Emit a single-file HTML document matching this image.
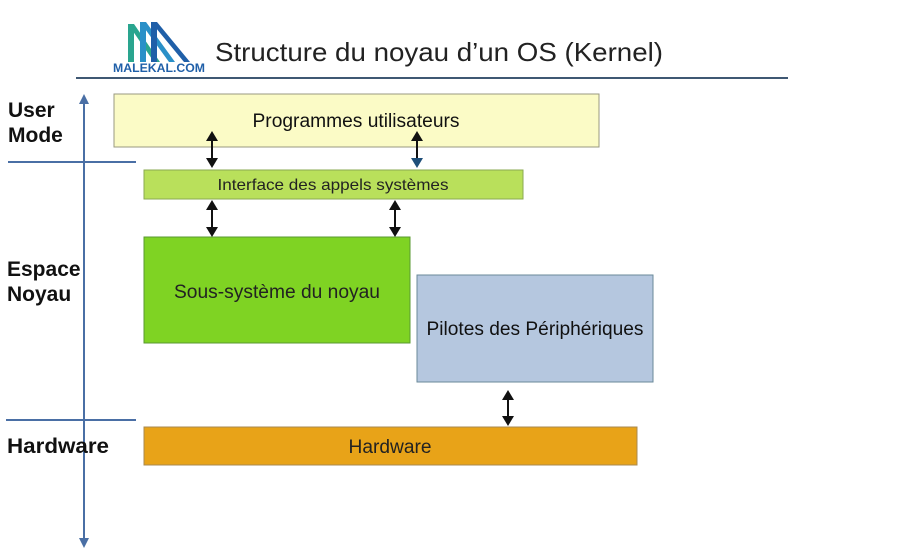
<!DOCTYPE html>
<html><head><meta charset="utf-8"><style>
html,body{margin:0;padding:0;background:#fff;}
svg{display:block;}
text{font-family:"Liberation Sans",sans-serif;}
</style></head><body>
<svg width="900" height="560" viewBox="0 0 900 560" xmlns="http://www.w3.org/2000/svg">
<rect width="900" height="560" fill="#fff"/>
<!-- logo -->
<g>
<polygon points="128,24 134,24 134,62 128,62" fill="#2aa58f"/>
<polygon points="128,24 134,24 160,62 154,62" fill="#2aa58f"/>
<polygon points="140,22 146,22 146,62 140,62" fill="#2a90c8"/>
<polygon points="140,22 146,22 175,62 169,62" fill="#2a90c8"/>
<polygon points="151,22 157,22 157,62 151,62" fill="#1f5fa8"/>
<polygon points="151,22 157,22 190,62 184,62" fill="#1f5fa8"/>
<text x="113" y="72" font-size="12" font-weight="bold" fill="#1f5fa8" textLength="92" lengthAdjust="spacingAndGlyphs">MALEKAL.COM</text>
</g>
<text x="215" y="61" font-size="26" fill="#222" textLength="448" lengthAdjust="spacingAndGlyphs">Structure du noyau d’un OS (Kernel)</text>
<line x1="76" y1="78" x2="788" y2="78" stroke="#3f5873" stroke-width="2"/>
<!-- axis -->
<line x1="84" y1="100" x2="84" y2="542" stroke="#4a6fa5" stroke-width="2"/>
<polygon points="84,94 79,104 89,104" fill="#4a6fa5"/>
<polygon points="84,548 79,538 89,538" fill="#4a6fa5"/>
<line x1="8" y1="162" x2="136" y2="162" stroke="#4a6fa5" stroke-width="2"/>
<line x1="6" y1="420" x2="136" y2="420" stroke="#4a6fa5" stroke-width="2"/>
<g font-size="21" font-weight="bold" fill="#111">
<text x="8" y="117">User</text>
<text x="8" y="142">Mode</text>
<text x="7" y="276">Espace</text>
<text x="7" y="301">Noyau</text>
<text x="7" y="453" textLength="102" lengthAdjust="spacingAndGlyphs">Hardware</text>
</g>
<!-- boxes -->
<rect x="114" y="94" width="485" height="53" fill="#fbfbc6" stroke="#9a9a80" stroke-width="1"/>
<text x="356" y="127" font-size="19" fill="#111" text-anchor="middle" textLength="207" lengthAdjust="spacingAndGlyphs">Programmes utilisateurs</text>
<rect x="144" y="170" width="379" height="29" fill="#b9e05b" stroke="#8aaa50" stroke-width="1"/>
<text x="333" y="190" font-size="16" fill="#222" text-anchor="middle" textLength="231" lengthAdjust="spacingAndGlyphs">Interface des appels systèmes</text>
<rect x="144" y="237" width="266" height="106" fill="#7fd323" stroke="#5a9a30" stroke-width="1"/>
<text x="277" y="298" font-size="19" fill="#222" text-anchor="middle" textLength="206" lengthAdjust="spacingAndGlyphs">Sous-système du noyau</text>
<rect x="417" y="275" width="236" height="107" fill="#b5c7df" stroke="#6a8a9a" stroke-width="1"/>
<text x="535" y="335" font-size="19" fill="#111" text-anchor="middle" textLength="217" lengthAdjust="spacingAndGlyphs">Pilotes des Périphériques</text>
<rect x="144" y="427" width="493" height="38" fill="#e8a318" stroke="#a88a50" stroke-width="1"/>
<text x="390" y="453" font-size="19" fill="#222" text-anchor="middle" textLength="83" lengthAdjust="spacingAndGlyphs">Hardware</text>
<!-- arrows -->
<g stroke="#111" stroke-width="2" fill="#111">
<line x1="212" y1="138" x2="212" y2="160"/>
<polygon points="212,131 206,141 218,141" stroke="none"/>
<polygon points="212,168 206,158 218,158" stroke="none"/>
<line x1="417" y1="138" x2="417" y2="160"/>
<polygon points="417,131 411,141 423,141" stroke="none"/>
<polygon points="417,168 411,158 423,158" stroke="none" fill="#1f4f7a"/>
<line x1="212" y1="207" x2="212" y2="229"/>
<polygon points="212,200 206,210 218,210" stroke="none"/>
<polygon points="212,237 206,227 218,227" stroke="none"/>
<line x1="395" y1="207" x2="395" y2="229"/>
<polygon points="395,200 389,210 401,210" stroke="none"/>
<polygon points="395,237 389,227 401,227" stroke="none"/>
<line x1="508" y1="397" x2="508" y2="419"/>
<polygon points="508,390 502,400 514,400" stroke="none"/>
<polygon points="508,426 502,416 514,416" stroke="none"/>
</g>
</svg>
</body></html>
